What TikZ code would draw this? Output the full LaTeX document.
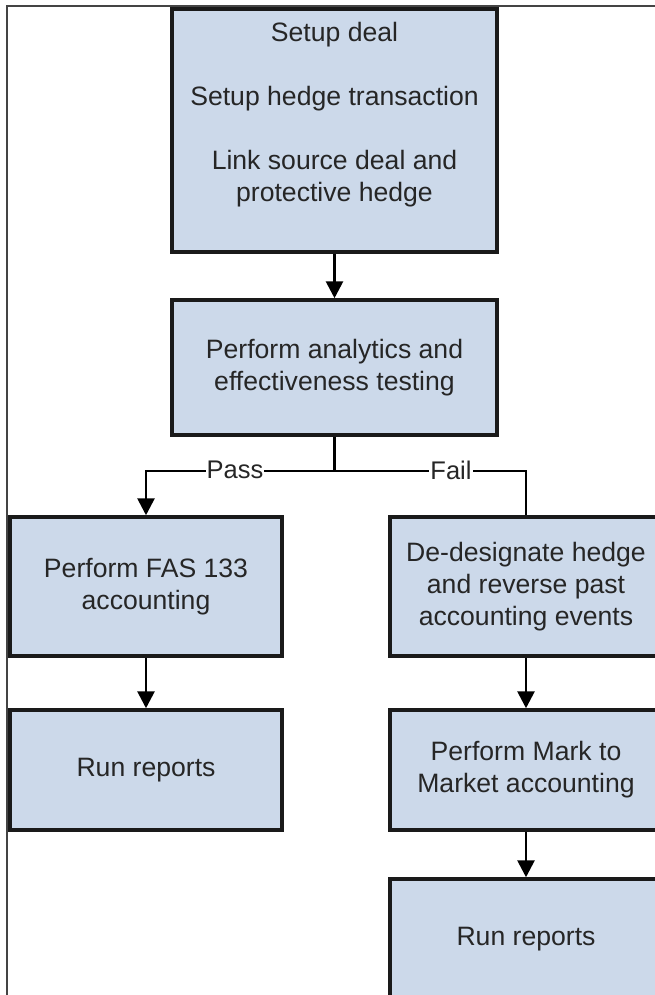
\documentclass[tikz,border=0pt]{standalone}
\usepackage{fontspec}
\setmainfont{Liberation Sans}
\usetikzlibrary{arrows.meta,positioning}
\definecolor{boxfill}{HTML}{CCD9EA}
\definecolor{boxline}{HTML}{1A1A1A}
\definecolor{txtcol}{HTML}{262626}
\definecolor{framecol}{HTML}{444444}
\tikzset{
  box/.style={draw=boxline, fill=boxfill, line width=3.5pt, rectangle, inner sep=0pt,
    align=center, text=txtcol, font=\fontsize{26.6}{32}\selectfont},
  txt/.style={align=center, text=txtcol, font=\fontsize{26.6}{32}\selectfont, inner sep=0pt},
  lbl/.style={fill=white, text=txtcol, font=\fontsize{25.5}{30}\selectfont, inner xsep=1pt, inner ysep=0pt},
  conn/.style={line width=2.8pt, black},
  arr/.style={conn, -{Triangle[length=17pt,width=17pt]}},
}
\begin{document}
\begin{tikzpicture}[x=1pt,y=-1pt]
\clip (0,0) rectangle (655,995);
\useasboundingbox (0,0) rectangle (655,995);
\fill[white] (0,0) rectangle (655,995);
% frame
\draw[framecol, line width=1.5pt] (7,995) -- (7,6) -- (660,6);
% boxes
\node[box, minimum width=325pt, minimum height=243pt] (n1) at (334.5,130.5) {};
\node[txt, anchor=north] (t1) at (334.5,22) {Setup deal\\[32pt]Setup hedge transaction\\[32pt]Link source deal and\\protective hedge};
\node[box, minimum width=325pt, minimum height=135pt] (n2) at (334.5,367.5) {Perform analytics and\\effectiveness testing};
\node[box, minimum width=272pt, minimum height=139pt] (n3) at (146,586.5) {Perform FAS 133\\accounting};
\node[box, minimum width=272pt, minimum height=139pt] (n4) at (526,586.5) {De-designate hedge\\and reverse past\\accounting events};
\node[box, minimum width=272pt, minimum height=120pt] (n5) at (146,770) {Run reports};
\node[box, minimum width=272pt, minimum height=120pt] (n6) at (526,770) {Perform Mark to\\Market accounting};
\node[box, minimum width=272pt, minimum height=120pt] (n7) at (526,939) {Run reports};
% connectors
\draw[arr] (n1.south) -- (n2.north);
\coordinate (j) at (334.5,471);
\draw[conn] (n2.south) -- (j);
\draw[arr] (j) -| (n3.north);
\draw[conn] (j) -| (n4.north);
\node[lbl] (pass) at (235,470) {Pass};
\node[lbl] (fail) at (451,470) {Fail};
\draw[arr] (n3.south) -- (n5.north);
\draw[arr] (n4.south) -- (n6.north);
\draw[arr] (n6.south) -- (n7.north);
\end{tikzpicture}
\end{document}
